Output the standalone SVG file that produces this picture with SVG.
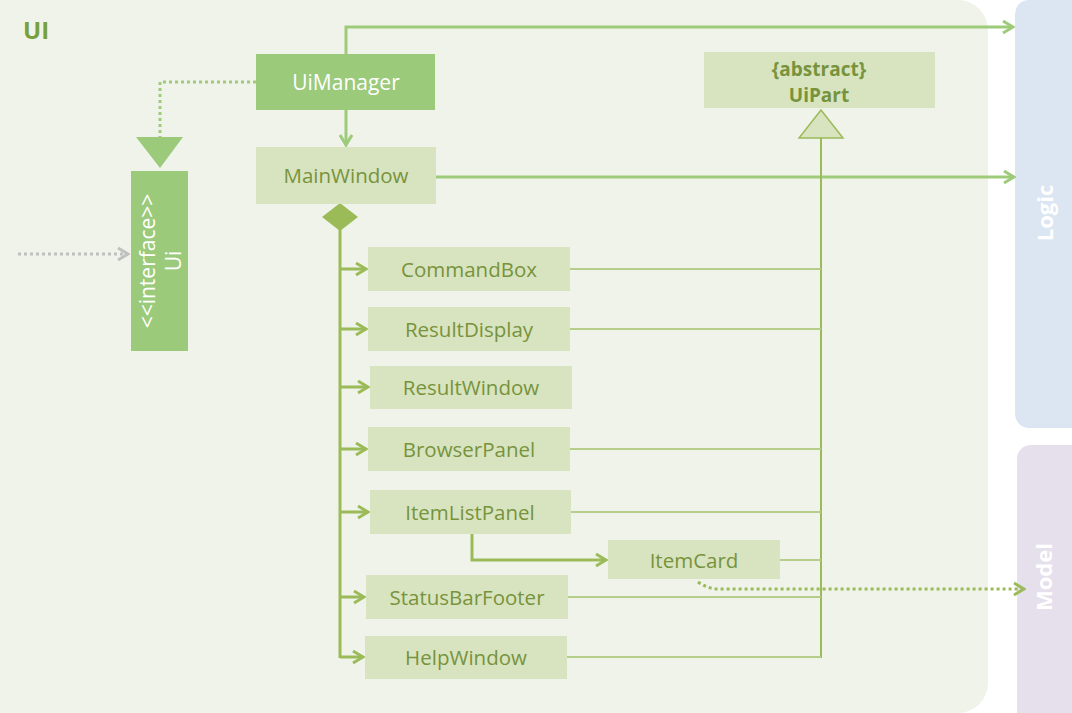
<svg xmlns="http://www.w3.org/2000/svg" width="1072" height="713" viewBox="0 0 1072 713">
<defs>
<style>
.lbl{font-family:"Open Sans","Noto Sans",sans-serif;font-size:20.5px;fill:#77933C;text-anchor:middle;dominant-baseline:central}
.wlbl{font-family:"Open Sans","Noto Sans",sans-serif;font-size:21px;fill:#FFFFFF;text-anchor:middle;dominant-baseline:central}
.bold{font-family:"Open Sans","Noto Sans",sans-serif;font-weight:bold;font-size:19px;fill:#77933C;text-anchor:middle}
.pkg{font-family:"Open Sans","Noto Sans",sans-serif;font-weight:bold;font-size:22px;fill:#FFFFFF;text-anchor:middle;dominant-baseline:central}
.light{fill:#D8E4BF}
.dark{fill:#9BCA7A}
.conn{fill:none;stroke:#9DCB7A;stroke-width:3}
.comp{fill:none;stroke:#9BBB59;stroke-width:3}
.gen{fill:none;stroke:#9BBB59;stroke-width:2}
.thin{fill:none;stroke:#B5CF8A;stroke-width:2}
</style>
<marker id="open" markerWidth="14" markerHeight="16" refX="12" refY="8" orient="auto" markerUnits="userSpaceOnUse">
<path d="M2,2 L12,8 L2,14" fill="none" stroke="#9DCB7A" stroke-width="3"/>
</marker>
<marker id="openO" markerWidth="14" markerHeight="16" refX="12" refY="8" orient="auto" markerUnits="userSpaceOnUse">
<path d="M2,2 L12,8 L2,14" fill="none" stroke="#9BBB59" stroke-width="3"/>
</marker>
<marker id="openG" markerWidth="14" markerHeight="16" refX="12" refY="8" orient="auto" markerUnits="userSpaceOnUse">
<path d="M2,2 L12,8 L2,14" fill="none" stroke="#C0C0C0" stroke-width="3"/>
</marker>
</defs>

<g id="ui-package">
<rect x="-30" y="0" width="1018" height="713" rx="30" ry="30" fill="#F0F3E9"/>
<text x="23" y="39" font-family="'Open Sans','Noto Sans',sans-serif" font-weight="bold" font-size="24" fill="#77A03A">UI</text>
</g>

<g id="logic">
<rect x="1015" y="0" width="80" height="428" rx="14" ry="14" fill="#DCE6F2"/>
<text class="pkg" transform="translate(1044,213) rotate(-90)">Logic</text>
</g>
<g id="model">
<rect x="1017" y="445" width="80" height="290" rx="14" ry="14" fill="#E5E0EC"/>
<text class="pkg" transform="translate(1043,577) rotate(-90)">Model</text>
</g>

<g id="connectors">
<line x1="18" y1="254" x2="128" y2="254" stroke="#C0C0C0" stroke-width="3" stroke-dasharray="3,3" marker-end="url(#openG)"/>
<polyline points="256,82 160,82 160,138" fill="none" stroke="#9DCB7A" stroke-width="3" stroke-dasharray="3,3"/>
<polygon points="136,137 183,137 160,168" fill="#9BCA7A"/>
<polyline class="conn" points="346,54 346,27 1013,27" marker-end="url(#open)"/>
<line class="conn" x1="346" y1="110" x2="346" y2="145" marker-end="url(#open)"/>
<line class="conn" x1="436" y1="177" x2="1014" y2="177" marker-end="url(#open)"/>
<line class="comp" x1="340" y1="230" x2="340" y2="658"/>
<polygon points="340,203 358,217 340,231 322,217" fill="#9BBB59"/>
<line class="comp" x1="340" y1="269" x2="366" y2="269" marker-end="url(#openO)"/>
<line class="comp" x1="340" y1="329" x2="366" y2="329" marker-end="url(#openO)"/>
<line class="comp" x1="340" y1="387" x2="368" y2="387" marker-end="url(#openO)"/>
<line class="comp" x1="340" y1="449" x2="366" y2="449" marker-end="url(#openO)"/>
<line class="comp" x1="340" y1="512" x2="368" y2="512" marker-end="url(#openO)"/>
<line class="comp" x1="340" y1="597" x2="364" y2="597" marker-end="url(#openO)"/>
<line class="comp" x1="340" y1="657" x2="363" y2="657" marker-end="url(#openO)"/>
<polyline class="comp" points="472,534 472,560 606,560" marker-end="url(#openO)"/>
<path d="M698,582 Q708,589 719,589 L1024,589" fill="none" stroke="#9BBB59" stroke-width="3" stroke-dasharray="3,3" marker-end="url(#openO)"/>
<line class="gen" x1="821" y1="138" x2="821" y2="658"/>
<polygon points="821,110 843,138 799,138" fill="#D8E4BF" stroke="#9BBB59" stroke-width="1.5"/>
<line class="thin" x1="570" y1="269" x2="821" y2="269"/>
<line class="thin" x1="570" y1="329" x2="821" y2="329"/>
<line class="thin" x1="570" y1="449" x2="821" y2="449"/>
<line class="thin" x1="571" y1="512" x2="821" y2="512"/>
<line class="thin" x1="780" y1="560" x2="821" y2="560"/>
<line class="thin" x1="568" y1="597" x2="821" y2="597"/>
<line class="thin" x1="567" y1="657" x2="821" y2="657"/>
</g>

<g id="UiManager"><rect class="dark" x="256" y="54" width="179" height="56"/><text class="wlbl" x="346" y="82">UiManager</text></g>
<g id="MainWindow"><rect class="light" x="256" y="147" width="180" height="57"/><text class="lbl" x="346" y="175">MainWindow</text></g>
<g id="Ui"><rect class="dark" x="131" y="171" width="57" height="180"/><text class="wlbl" transform="translate(159,261) rotate(-90)"><tspan x="0" dy="-12">&lt;&lt;interface&gt;&gt;</tspan><tspan x="0" dy="26">Ui</tspan></text></g>
<g id="UiPart"><rect class="light" x="704" y="52" width="231" height="56"/><text class="bold" x="819" y="76">{abstract}</text><text class="bold" x="819" y="102">UiPart</text></g>
<g id="CommandBox"><rect class="light" x="368" y="247" width="202" height="44"/><text class="lbl" x="469" y="269">CommandBox</text></g>
<g id="ResultDisplay"><rect class="light" x="368" y="307" width="202" height="44"/><text class="lbl" x="469" y="329">ResultDisplay</text></g>
<g id="ResultWindow"><rect class="light" x="370" y="366" width="202" height="43"/><text class="lbl" x="471" y="387">ResultWindow</text></g>
<g id="BrowserPanel"><rect class="light" x="368" y="427" width="202" height="44"/><text class="lbl" x="469" y="449">BrowserPanel</text></g>
<g id="ItemListPanel"><rect class="light" x="370" y="490" width="201" height="44"/><text class="lbl" x="470" y="512">ItemListPanel</text></g>
<g id="ItemCard"><rect class="light" x="608" y="540" width="172" height="39"/><text class="lbl" x="694" y="560">ItemCard</text></g>
<g id="StatusBarFooter"><rect class="light" x="366" y="575" width="202" height="44"/><text class="lbl" x="467" y="597">StatusBarFooter</text></g>
<g id="HelpWindow"><rect class="light" x="365" y="636" width="202" height="43"/><text class="lbl" x="466" y="657">HelpWindow</text></g>
</svg>
